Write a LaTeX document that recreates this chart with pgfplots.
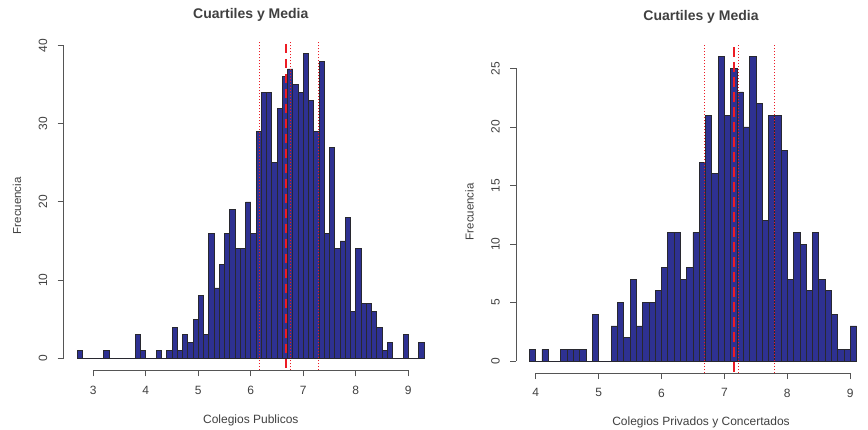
\documentclass[border=0pt]{standalone}
\usepackage{pgfplots}
\pgfplotsset{compat=1.18}
\usepackage{fontspec}
\setmainfont{Liberation Sans}
\definecolor{barfill}{RGB}{46,49,146}
\definecolor{baredge}{RGB}{40,40,48}
\definecolor{txt}{RGB}{64,64,64}
\definecolor{axcol}{RGB}{85,85,85}
\definecolor{rline}{RGB}{237,28,36}

\pgfplotstableread{
x y
2.7 1
2.8 0
2.9 0
3.0 0
3.1 0
3.2 1
3.3 0
3.4 0
3.5 0
3.6 0
3.7 0
3.8 3
3.9 1
4.0 0
4.1 0
4.2 1
4.3 0
4.4 1
4.5 4
4.6 1
4.7 3
4.8 2
4.9 5
5.0 8
5.1 3
5.2 16
5.3 9
5.4 12
5.5 16
5.6 19
5.7 14
5.8 14
5.9 20
6.0 16
6.1 29
6.2 34
6.3 34
6.4 25
6.5 32
6.6 36
6.7 37
6.8 35
6.9 34
7.0 39
7.1 33
7.2 29
7.3 38
7.4 16
7.5 27
7.6 14
7.7 15
7.8 18
7.9 6
8.0 14
8.1 7
8.2 7
8.3 6
8.4 4
8.5 1
8.6 2
8.7 0
8.8 0
8.9 3
9.0 0
9.1 0
9.2 2
9.3 0
}\publicos

\pgfplotstableread{
x y
3.9 1
4.0 0
4.1 1
4.2 0
4.3 0
4.4 1
4.5 1
4.6 1
4.7 1
4.8 0
4.9 4
5.0 0
5.1 0
5.2 3
5.3 5
5.4 2
5.5 7
5.6 3
5.7 5
5.8 5
5.9 6
6.0 8
6.1 11
6.2 11
6.3 7
6.4 8
6.5 11
6.6 17
6.7 21
6.8 16
6.9 26
7.0 21
7.1 25
7.2 23
7.3 20
7.4 26
7.5 22
7.6 12
7.7 21
7.8 21
7.9 18
8.0 7
8.1 11
8.2 10
8.3 6
8.4 11
8.5 7
8.6 6
8.7 4
8.8 1
8.9 1
9.0 3
9.1 0
}\privados

\pgfplotsset{rhist/.style={
  scale only axis, clip=false,
  axis line style={draw=none},
  tick pos=left, tick align=outside,
  major tick length=6pt,
  tick style={axcol, line width=0.8pt},
  x tick label as interval=false,
  /pgf/number format/assume math mode=true,
  ticklabel style={font=\fontsize{12}{14}\selectfont, text=txt},
  xticklabel style={yshift=-6pt},
  yticklabel style={xshift=-7pt, rotate=90, anchor=south},
  every axis x label/.style={at={(axis description cs:0.5,0)}, anchor=center, yshift=-49.5pt, font=\fontsize{12}{14}\selectfont, text=txt},
  every axis y label/.style={at={(axis description cs:0,0.5)}, xshift=-46.7pt, rotate=90, anchor=center, font=\fontsize{11.5}{14}\selectfont, text=txt},
  every axis title/.style={at={(axis description cs:0.5,1)}, anchor=center, yshift=26pt, font=\bfseries\fontsize{14}{16}\selectfont, text=txt},
  ylabel={Frecuencia},
  title={Cuartiles y Media},
}}

\begin{document}
\begin{tikzpicture}[x=1pt,y=1pt]
\useasboundingbox (0,0) rectangle (868,430);

\begin{axis}[rhist,
  at={(63.7pt,59.5pt)}, anchor=south west,
  width=374.2pt, height=329.4pt,
  xmin=2.436, xmax=9.564, ymin=-1.56, ymax=40.56,
  xtick={3,4,5,6,7,8,9}, ytick={0,10,20,30,40},
  xlabel={Colegios Publicos},
]
\addplot[ybar interval, fill=barfill, draw=baredge, line width=0.7pt] table[x=x,y=y] {\publicos};
\addplot[rline, line width=0.8pt, dash pattern=on 1pt off 2pt] coordinates {(6.156,-1.56) (6.156,40.56)};
\addplot[rline, line width=0.8pt, dash pattern=on 1pt off 2pt] coordinates {(6.759,-1.56) (6.759,40.56)};
\addplot[rline, line width=0.8pt, dash pattern=on 1pt off 2pt] coordinates {(7.289,-1.56) (7.289,40.56)};
\addplot[rline, line width=2pt, dash pattern=on 9.5pt off 5.5pt] coordinates {(6.676,40.2) (6.676,-1.56)};
\draw[axcol, line width=0.8pt] (axis cs:2.436,0) -- (axis cs:2.436,40);
\draw[axcol, line width=0.8pt] (axis cs:3,-1.56) -- (axis cs:9,-1.56);
\end{axis}

\begin{axis}[rhist,
  at={(516.3pt,56.8pt)}, anchor=south west,
  width=369.4pt, height=328.6pt,
  xmin=3.692, xmax=9.564, ymin=-1.04, ymax=27.04,
  xtick={4,5,6,7,8,9}, ytick={0,5,10,15,20,25},
  xlabel={Colegios Privados y Concertados},
  every axis title/.append style={yshift=1.3pt},
  every axis y label/.append style={xshift=-2.9pt},
]
\addplot[ybar interval, fill=barfill, draw=baredge, line width=0.7pt] table[x=x,y=y] {\privados};
\addplot[rline, line width=0.8pt, dash pattern=on 1pt off 2pt] coordinates {(6.681,-1.04) (6.681,27.04)};
\addplot[rline, line width=0.8pt, dash pattern=on 1pt off 2pt] coordinates {(7.222,-1.04) (7.222,27.04)};
\addplot[rline, line width=0.8pt, dash pattern=on 1pt off 2pt] coordinates {(7.79,-1.04) (7.79,27.04)};
\addplot[rline, line width=2pt, dash pattern=on 9.5pt off 5.5pt] coordinates {(7.153,26.8) (7.153,-1.04)};
\draw[axcol, line width=0.8pt] (axis cs:3.692,0) -- (axis cs:3.692,25);
\draw[axcol, line width=0.8pt] (axis cs:4,-1.04) -- (axis cs:9,-1.04);
\end{axis}
\end{tikzpicture}
\end{document}
